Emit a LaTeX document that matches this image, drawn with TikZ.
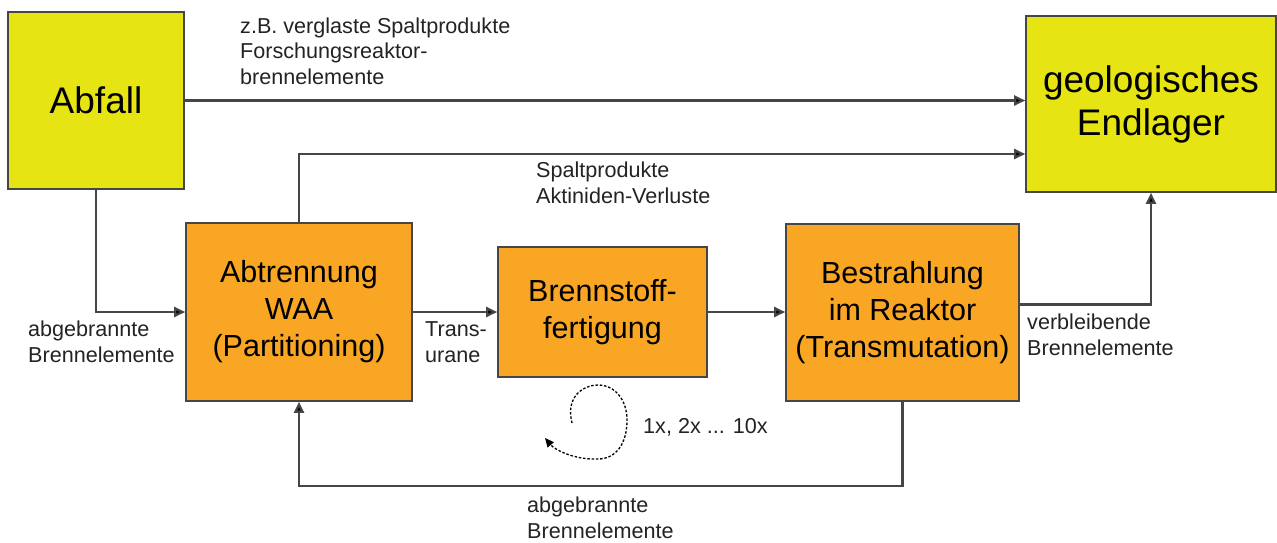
\documentclass[tikz,border=0pt]{standalone}
\usepackage{fontspec}
\setmainfont{Liberation Sans}
\usetikzlibrary{arrows.meta}
\definecolor{boxyellow}{RGB}{230,228,18}
\definecolor{boxorange}{RGB}{249,166,36}
\definecolor{linegray}{RGB}{70,70,70}
\definecolor{labelgray}{RGB}{35,35,35}
\tikzset{
  ybox/.style={draw=linegray, line width=1.6pt, fill=boxyellow, align=center, inner sep=0pt,
    font=\fontsize{37}{43}\selectfont},
  obox/.style={draw=linegray, line width=1.6pt, fill=boxorange, align=center, inner sep=0pt,
    font=\fontsize{30.5}{37}\selectfont},
  lbl/.style={align=left, inner sep=0pt, anchor=west, text=labelgray,
    font=\fontsize{21.6}{25.5}\selectfont},
  conn/.style={draw=linegray, line width=2.2pt},
  arr/.style={conn, -{Triangle[length=11pt,width=10pt,fill=black]}},
}
\begin{document}
\begin{tikzpicture}[x=1pt,y=-1pt]
\useasboundingbox (0,0) rectangle (1277,542);

\node[ybox, minimum width=176pt, minimum height=177pt] (abfall) at (96,100.5) {Abfall};
\node[ybox, minimum width=250pt, minimum height=176pt] (endlager) at (1151,104) {geologisches\\Endlager};
\node[obox, minimum width=226pt, minimum height=178pt] (abtr) at (299,312) {Abtrennung\\WAA\\(Partitioning)};
\node[obox, minimum width=209pt, minimum height=130pt] (brenn) at (602.5,312) {Brennstoff-\\fertigung};
\node[obox, minimum width=233pt, minimum height=177pt] (best) at (902.5,312.5) {Bestrahlung\\im Reaktor\\(Transmutation)};

% labels
\node[lbl] (l1) at (240,51) {z.B. verglaste Spaltprodukte\\Forschungsreaktor-\\brennelemente};
\node[lbl] (l2) at (536,183) {Spaltprodukte\\Aktiniden-Verluste};
\node[lbl] (l3) at (28,342) {abgebrannte\\Brennelemente};
\node[lbl] (l4) at (425,342) {Trans-\\urane};
\node[lbl] (l5) at (1027,335) {verbleibende\\Brennelemente};
\node[lbl] (l6) at (643,427) {1x, 2x ... 10x};
\node[lbl] (l7) at (527,518) {abgebrannte\\Brennelemente};

% connectors
\draw[arr] (abfall.east) -- (abfall.east -| endlager.west);
\draw[arr] (abtr.north) |- ([yshift=-50pt]endlager.west);
\draw[arr] (abfall.south) |- (abtr.west);
\draw[arr] (abtr.east) -- (brenn.west);
\draw[arr] (brenn.east) -- (brenn.east -| best.west);
\draw[arr] ([yshift=8pt]best.east) -| (endlager.south);
\coordinate (fb) at ([yshift=-84pt]best.south);
\draw[arr] (best.south) -- (fb) -| (abtr.south);

% cycle arrow
\draw[line width=1.3pt, black, dash pattern=on 2.5pt off 1.8pt, -{Triangle[length=9pt,width=8pt]}]
  (572,423) .. controls (565,395) and (585,385) .. (598,385)
  .. controls (615,385) and (627,400) .. (627,420)
  .. controls (627,445) and (615,459) .. (598,459)
  .. controls (575,460) and (555,450) .. (545,438);
\end{tikzpicture}
\end{document}
